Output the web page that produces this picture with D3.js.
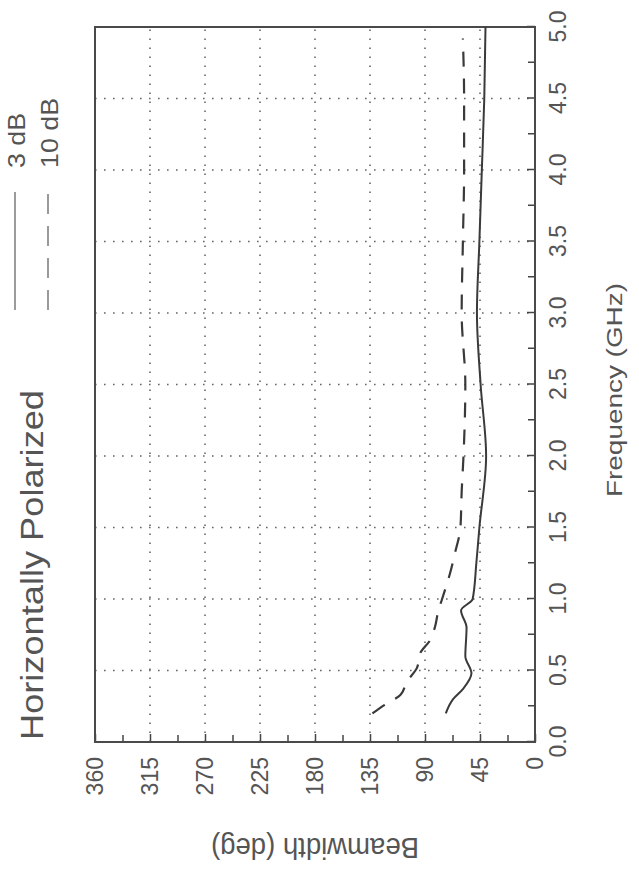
<!DOCTYPE html>
<html>
<head>
<meta charset="utf-8">
<script src="https://cdn.jsdelivr.net/npm/d3@7"></script>
<style>
  body { margin: 0; background: #fff; }
  text { font-family: "Liberation Sans", Arial, Helvetica, sans-serif; fill: #555; }
</style>
</head>
<body>
<script>
// the whole chart is printed turned a quarter turn, so it is drawn in a rotated group
const w = 639;
const h = 871;

const freqTicks = [0, 0.5, 1.0, 1.5, 2.0, 2.5, 3.0, 3.5, 4.0, 4.5, 5.0];
const bwTicks = [0, 45, 90, 135, 180, 225, 270, 315, 360];

// 3 dB beamwidth
const freq3 = [0.2, 0.3, 0.37, 0.48, 0.6, 0.8, 0.92, 1.0, 1.25, 1.5, 2.0, 2.5, 3.0, 3.5, 4.0, 4.5, 5.0];
const bw3 = [73, 67, 59, 52, 57, 56, 60.5, 51, 48, 45.5, 40, 44.5, 47.5, 45.5, 43.5, 41.5, 40.5];

// 10 dB beamwidth
const freq10 = [0.2, 0.26, 0.33, 0.42, 0.52, 0.62, 0.71, 0.8, 0.92, 1.0, 1.18, 1.32, 1.5, 1.75, 2.0, 2.5, 3.0, 3.5, 4.0, 4.5, 4.92];
const bw10 = [133, 123, 110, 105, 96.5, 94, 86, 82, 79, 76, 69.5, 65.5, 61, 60, 58.5, 57, 60, 59, 58, 58, 59];

const legendLabels = ["3 dB", "10 dB"];

const W = 715; // frequency span
const H = 440; // beamwidth span

const svg = d3.select("body")
  .append("svg")
  .attr("width", w)
  .attr("height", h);

const g = svg.append("g")
  .attr("transform", "translate(95,742) rotate(-90)");

const xScale = d3.scaleLinear().domain([0, 5]).range([0, W]);
const yScale = d3.scaleLinear().domain([0, 360]).range([H, 0]);

// grid
const grid = g.append("g")
  .attr("stroke", "#666")
  .attr("stroke-width", 1.6)
  .attr("stroke-dasharray", "1.6,7.4");
grid.selectAll(".gx")
  .data(freqTicks.slice(1, -1))
  .enter()
  .append("line")
  .attr("x1", d => xScale(d))
  .attr("x2", d => xScale(d))
  .attr("y1", 0)
  .attr("y2", H);
grid.selectAll(".gy")
  .data(bwTicks.slice(1, -1))
  .enter()
  .append("line")
  .attr("x1", 0)
  .attr("x2", W)
  .attr("y1", d => yScale(d))
  .attr("y2", d => yScale(d));

// axes
let xAxis = d3.axisBottom(xScale)
  .tickValues(freqTicks)
  .tickFormat(d3.format(".1f"))
  .tickSizeInner(-8)
  .tickSizeOuter(0)
  .tickPadding(15);
let xAxisGroup = g.append("g")
  .attr("transform", `translate(0,${H})`)
  .call(xAxis);

let xMinor = d3.axisBottom(xScale)
  .tickValues(freqTicks.slice(0, -1).map(d => d + 0.25))
  .tickFormat("")
  .tickSizeInner(-7)
  .tickSizeOuter(0);
g.append("g")
  .attr("transform", `translate(0,${H})`)
  .call(xMinor);

let yAxis = d3.axisLeft(yScale)
  .tickValues(bwTicks)
  .tickFormat(d3.format("d"))
  .tickSizeInner(-8)
  .tickSizeOuter(0)
  .tickPadding(15);
let yAxisGroup = g.append("g").call(yAxis);

let yMinor = d3.axisLeft(yScale)
  .tickValues(bwTicks.slice(0, -1).map(d => d + 22.5))
  .tickFormat("")
  .tickSizeInner(-7)
  .tickSizeOuter(0);
g.append("g").call(yMinor);

g.selectAll(".domain").remove();
g.selectAll(".tick line").attr("stroke", "#444").attr("stroke-width", 1.5);
g.selectAll(".tick text")
  .style("font-size", "23px")
  .attr("fill", "#555");

// frame
g.append("rect")
  .attr("x", 0)
  .attr("y", 0)
  .attr("width", W)
  .attr("height", H)
  .attr("fill", "none")
  .attr("stroke", "#4a4a4a")
  .attr("stroke-width", 2);

// curves
const line = d3.line()
  .x(d => xScale(d[0]))
  .y(d => yScale(d[1]))
  .curve(d3.curveMonotoneX);

g.append("path")
  .datum(freq3.map((f, i) => [f, bw3[i]]))
  .attr("d", line)
  .attr("fill", "none")
  .attr("stroke", "#3a3a3a")
  .attr("stroke-width", 2);

g.append("path")
  .datum(freq10.map((f, i) => [f, bw10[i]]))
  .attr("d", line)
  .attr("fill", "none")
  .attr("stroke", "#3a3a3a")
  .attr("stroke-width", 2.2)
  .attr("stroke-dasharray", "15,12");

// legend
const legendPos = [-80, -47];
legendLabels.forEach((label, i) => {
  g.append("line")
    .attr("x1", 432)
    .attr("x2", 550)
    .attr("y1", legendPos[i])
    .attr("y2", legendPos[i])
    .attr("stroke", "#666")
    .attr("stroke-width", 1.3)
    .attr("stroke-dasharray", i === 0 ? null : "20,12");
  g.append("text")
    .attr("x", 574)
    .attr("y", legendPos[i] + 2)
    .attr("dy", "0.35em")
    .style("font-size", "24px")
    .attr("textLength", i === 0 ? 55 : 70)
    .attr("lengthAdjust", "spacingAndGlyphs")
    .text(label);
});

// title and axis names
g.append("text")
  .attr("x", 2)
  .attr("y", -52)
  .style("font-size", "32px")
  .attr("textLength", 350)
  .attr("lengthAdjust", "spacingAndGlyphs")
  .attr("fill", "#4a4a4a")
  .text("Horizontally Polarized");

g.append("text")
  .attr("x", 352)
  .attr("y", 527)
  .attr("text-anchor", "middle")
  .style("font-size", "22px")
  .attr("textLength", 214)
  .attr("lengthAdjust", "spacingAndGlyphs")
  .text("Frequency (GHz)");

g.append("text")
  .attr("transform", `translate(-96,${H / 2}) rotate(-90)`)
  .attr("text-anchor", "middle")
  .style("font-size", "29px")
  .attr("textLength", 208)
  .attr("lengthAdjust", "spacingAndGlyphs")
  .text("Beamwidth (deg)");
</script>
</body>
</html>
